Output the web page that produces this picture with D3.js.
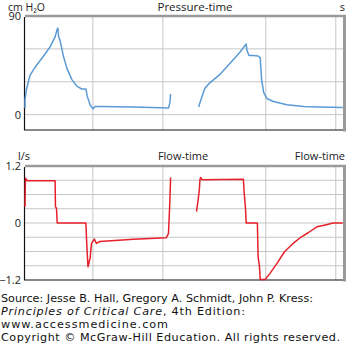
<!DOCTYPE html>
<html><head><meta charset="utf-8">
<script src="https://cdn.jsdelivr.net/npm/d3@7"></script>
<style>
html,body{margin:0;padding:0;background:#fff;}
svg{display:block;}
</style></head>
<body>
<script>
// ---- Data (time in s, pressure in cm H2O, flow in l/s) ----
const pressureBreath1 = [
  [0.00, 6], [0.00, 13.6], [0.02, 22.7], [0.05, 30.3], [0.07, 35.5], [0.12, 40.9],
  [0.17, 45.5], [0.26, 53], [0.36, 62], [0.43, 71], [0.46, 78], [0.47, 79],
  [0.48, 71], [0.50, 68], [0.55, 53], [0.60, 42], [0.67, 32], [0.74, 26],
  [0.81, 23.4], [0.87, 23.4], [0.89, 16.6], [0.93, 9], [0.97, 5.2], [1.00, 7.5],
  [1.07, 7.5], [1.54, 7], [2.05, 6.1], [2.07, 11], [2.08, 18.8]
];
const pressureBreath2 = [
  [2.48, 7], [2.52, 15], [2.57, 24], [2.64, 29], [2.79, 37], [2.93, 47],
  [3.07, 57], [3.16, 64.5], [3.17, 59], [3.20, 54], [3.26, 54], [3.33, 53.5],
  [3.36, 52], [3.38, 32], [3.41, 20], [3.46, 14.5], [3.55, 12], [3.74, 9],
  [3.98, 7.5], [4.21, 7], [4.54, 6.6]
];
const flowBreath1 = [
  [0.00, 0.34], [0.005, 0.84], [0.01, 0.94], [0.03, 0.89], [0.43, 0.89],
  [0.435, 0.34], [0.45, 0.31], [0.46, 0], [0.87, 0], [0.88, -0.36], [0.89, -0.67],
  [0.90, -0.92], [0.93, -0.74], [0.95, -0.43], [0.99, -0.34], [1.02, -0.43],
  [1.07, -0.39], [1.55, -0.34], [2.02, -0.31], [2.05, -0.22], [2.07, 0.48], [2.08, 0.96]
];
const flowBreath2 = [
  [2.45, 0.24], [2.47, 0.45], [2.49, 0.69], [2.50, 0.92], [2.51, 0.96], [2.53, 0.91],
  [3.12, 0.92], [3.13, 0.66], [3.15, 0.31], [3.16, 0], [3.32, 0], [3.33, -0.71],
  [3.35, -0.92], [3.36, -1.19], [3.43, -1.19], [3.50, -1.06], [3.60, -0.85],
  [3.71, -0.6], [3.83, -0.43], [3.95, -0.29], [4.05, -0.2], [4.17, -0.08],
  [4.29, -0.04], [4.40, 0], [4.54, 0]
];
const timeGrid = [0.97, 1.97, 3.44, 4.44];
const pressureTicks = [0, 90];
const pressureGrid = [0, 30, 60];
const flowTicks = [1.2, 0, -1.2];
const flowTickLabels = ["1.2", "0", "\u22121.2"];
const flowGrid = [0.9, 0.6, 0.3, 0, -0.3, -0.6, -0.9];
const sourceLines = [
  "Source: Jesse B. Hall, Gregory A. Schmidt, John P. Kress:",
  "Principles of Critical Care, 4th Edition:",
  "www.accessmedicine.com",
  "Copyright \u00a9 McGraw-Hill Education. All rights reserved."
];
const sourceWidths = [312, 244, 167, 339];

const W = 347, H = 344;
const svg = d3.select("body").append("svg").attr("width", W).attr("height", H);
const left = 25, right = 343;
const x = d3.scaleLinear().domain([0, 4.543]).range([left, right]);

const labFont = "'Open Sans', sans-serif";
const gridCol = "#c6c6c6", frameCol = "#9a9a9a";

function panel(cfg) {
  const y = d3.scaleLinear().domain(cfg.domain).range([cfg.bottom, cfg.top]);
  const g = svg.append("g");
  g.selectAll(".hg").data(cfg.grid).enter().append("line")
    .attr("x1", left).attr("x2", right)
    .attr("y1", d => y(d)).attr("y2", d => y(d))
    .attr("stroke", gridCol).attr("stroke-width", 1);
  g.selectAll(".vg").data(timeGrid).enter().append("line")
    .attr("x1", d => x(d)).attr("x2", d => x(d))
    .attr("y1", cfg.top).attr("y2", cfg.bottom)
    .attr("stroke", gridCol).attr("stroke-width", 1);
  g.append("line").attr("x1", left).attr("x2", right + 3)
    .attr("y1", cfg.top).attr("y2", cfg.top)
    .attr("stroke", frameCol).attr("stroke-width", 2.5);
  g.append("line").attr("x1", right + 1.5).attr("x2", right + 1.5)
    .attr("y1", cfg.top).attr("y2", cfg.bottom + 1.5)
    .attr("stroke", frameCol).attr("stroke-width", 3);
  g.append("line").attr("x1", left - 0.5).attr("x2", left - 0.5)
    .attr("y1", cfg.top + 1).attr("y2", cfg.bottom)
    .attr("stroke", "#111").attr("stroke-width", 1.2);
  g.append("line").attr("x1", left - 1).attr("x2", right)
    .attr("y1", cfg.bottom).attr("y2", cfg.bottom)
    .attr("stroke", "#111").attr("stroke-width", 1.2);
  const line = d3.line().x(d => x(d[0])).y(d => y(d[1]));
  cfg.series.forEach(s => {
    g.append("path").attr("d", line(s)).attr("fill", "none")
      .attr("stroke", cfg.color).attr("stroke-width", 1.5)
      .attr("stroke-linejoin", "round");
  });
  g.selectAll(".tl").data(cfg.ticks).enter().append("text")
    .attr("x", left - 4).attr("y", d => y(d)).attr("dy", "0.35em")
    .attr("text-anchor", "end").attr("font-family", labFont)
    .attr("font-size", 11).attr("fill", "#222")
    .text((d, i) => cfg.tickLabels[i]);
  return y;
}

panel({
  domain: [-14, 90], top: 16, bottom: 130, grid: pressureGrid,
  series: [pressureBreath1, pressureBreath2], color: "#5b9bd5",
  ticks: pressureTicks, tickLabels: pressureTicks.map(String)
});
panel({
  domain: [-1.2, 1.2], top: 166, bottom: 280, grid: flowGrid,
  series: [flowBreath1, flowBreath2], color: "#e8202a",
  ticks: flowTicks, tickLabels: flowTickLabels
});

function label(txt, xx, yy, anchor) {
  return svg.append("text").attr("x", xx).attr("y", yy)
    .attr("text-anchor", anchor || "start").attr("font-family", labFont)
    .attr("font-size", 11).attr("fill", "#222").text(txt);
}
label("cm H\u2082O", 8, 11).attr("font-size", 10.5);
label("Pressure-time", 195, 11, "middle").attr("font-size", 11.5);
label("s", 345, 11, "end");
label("l/s", 18, 160);
label("Flow-time", 183, 160, "middle");
label("Flow-time", 345, 160, "end");

const src = svg.append("g").attr("font-family", "'DejaVu Sans', Verdana, sans-serif")
  .attr("font-size", 11.2).attr("fill", "#111");
src.selectAll("text").data(sourceLines).enter().append("text")
  .attr("x", 1).attr("y", (d, i) => 302 + i * 13)
  .attr("textLength", (d, i) => sourceWidths[i])
  .attr("lengthAdjust", "spacing")
  .each(function(d, i) {
    const t = d3.select(this);
    if (i === 1) {
      t.append("tspan").attr("font-style", "italic").text("Principles of Critical Care");
      t.append("tspan").text(", 4th Edition:");
    } else t.text(d);
  });
</script>
</body></html>
